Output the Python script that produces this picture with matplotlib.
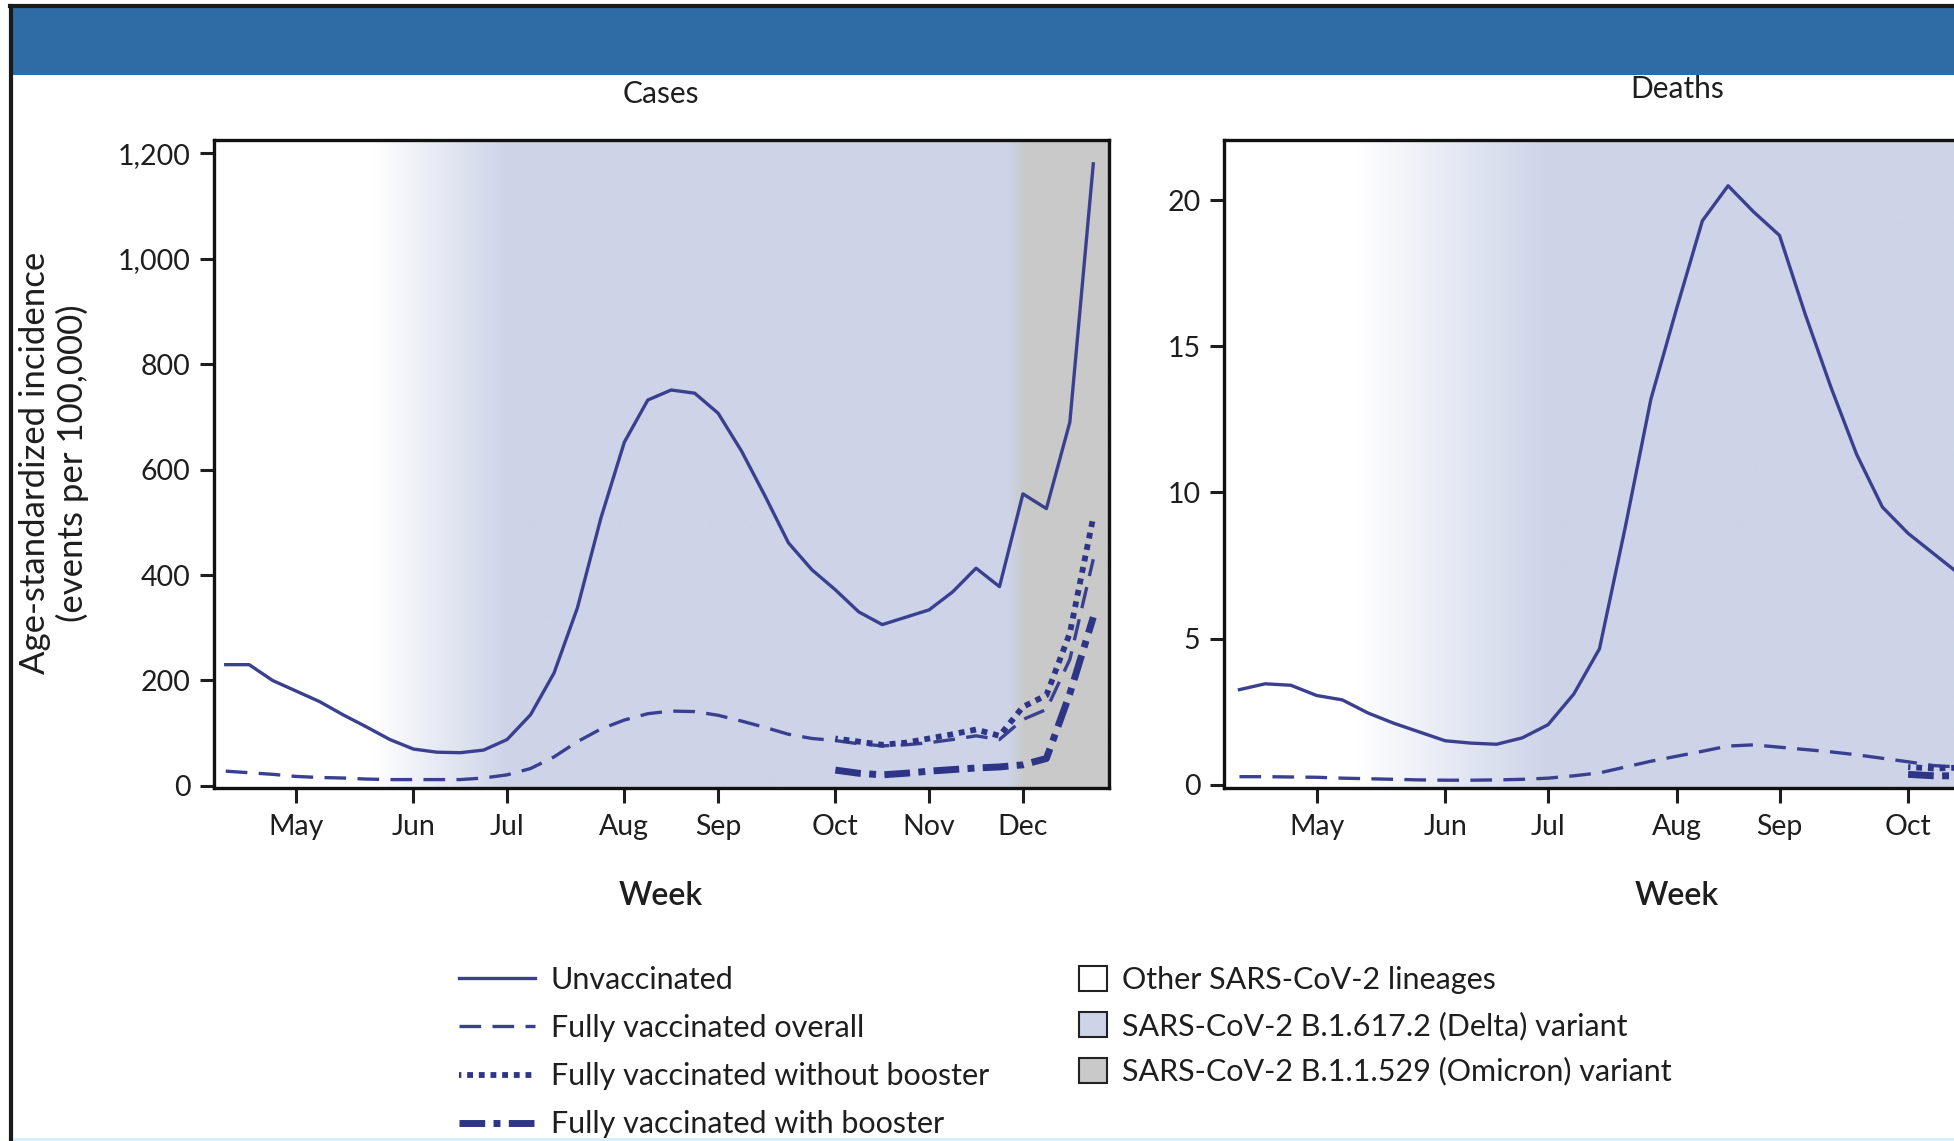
"""Weekly age-standardized COVID-19 cases and deaths by vaccination status,
with SARS-CoV-2 variant periods shaded in the background."""

import numpy as np
import matplotlib as mpl

mpl.use("Agg")
import matplotlib.pyplot as plt
from matplotlib import font_manager
from matplotlib.colors import to_rgb
from matplotlib.lines import Line2D
from matplotlib.patches import Patch, Rectangle
from matplotlib.ticker import FuncFormatter

_available = {f.name for f in font_manager.fontManager.ttflist}
FONT = next((f for f in ["Lato", "Open Sans", "DejaVu Sans"] if f in _available), "DejaVu Sans")
plt.rcParams["font.family"] = [FONT, "DejaVu Sans"]

W, H = 1954, 1141

# ── data (x = weeks relative to first week of May) ─────────────────────────
month_labels = ["May", "Jun", "Jul", "Aug", "Sep", "Oct", "Nov", "Dec"]
month_weeks = [0, 5, 9, 14, 18, 23, 27, 31]

case_weeks = list(range(-3, 35))
case_unvax = [230, 230, 200, 180, 160, 135, 112, 88, 70, 64, 63, 68, 88, 135, 214, 338,
              508, 652, 732, 751, 745, 707, 635, 550, 461, 410, 372, 330, 306, 320,
              334, 368, 413, 378, 554, 526, 690, 1180]
case_vax = [28, 25, 22, 18, 16, 15, 13, 12, 12, 12, 12, 15, 21, 33, 55, 84,
            108, 125, 137, 142, 141, 134, 123, 111, 98, 90, 86, 80, 76, 78,
            82, 88, 95, 88, 126, 145, 240, 430]

booster_weeks = list(range(23, 35))
case_no_booster = [90, 84, 78, 82, 90, 98, 107, 95, 150, 172, 290, 510]
case_booster = [30, 24, 21, 24, 28, 31, 34, 36, 40, 52, 175, 320]

death_weeks = list(range(-3, 26))
death_unvax = [3.25, 3.45, 3.40, 3.05, 2.90, 2.45, 2.10, 1.80, 1.50, 1.42, 1.38, 1.60,
               2.05, 3.10, 4.65, 8.8, 13.2, 16.3, 19.3, 20.5, 19.6, 18.8, 16.1, 13.6,
               11.3, 9.5, 8.6, 7.9, 7.2]
death_vax = [0.27, 0.27, 0.26, 0.25, 0.22, 0.20, 0.18, 0.16, 0.15, 0.15, 0.16, 0.18,
             0.22, 0.30, 0.40, 0.60, 0.80, 0.97, 1.14, 1.32, 1.36, 1.28, 1.20, 1.12,
             1.02, 0.90, 0.78, 0.65, 0.60]
death_booster_weeks = [23, 24, 25]
death_no_booster = [0.60, 0.55, 0.58]
death_booster = [0.35, 0.30, 0.30]
death_month_count = 6   # May..Oct fall inside the visible (cropped) panel

# variant shading: (week, colour) stops
WHITE = "#FFFFFF"
DELTA = "#CDD4E8"
OMICRON = "#C9C9C9"
case_variant_stops = [(-3.5, WHITE), (3.3, WHITE), (9.0, DELTA), (30.4, DELTA), (31.1, OMICRON), (34.7, OMICRON)]
death_variant_stops = [(-3.6, WHITE), (1.5, WHITE), (9.0, DELTA), (31.2, DELTA)]

LINE = "#3A408F"
DARK = "#2E3586"
BAR = "#2F6CA5"
TXT = "#1E1E1E"

solid = dict(color=LINE, lw=2.4, ls="-")
dashed = dict(color=LINE, lw=2.4, ls=(0, (6.5, 3.4)))
dotted = dict(color=DARK, lw=4.2, ls=(0.6, (1.0, 1.0)))
dashdot = dict(color=DARK, lw=5.0, ls=(0, (3.7, 1.2, 1.0, 1.2)))


def shade(ax, stops, ylim):
    xs = np.linspace(stops[0][0], stops[-1][0], 1200)
    pos = [s[0] for s in stops]
    cols = np.array([to_rgb(s[1]) for s in stops])
    rgb = np.stack([np.interp(xs, pos, cols[:, i]) for i in range(3)], axis=-1)
    ax.imshow(rgb[None, :, :], aspect="auto", extent=[xs[0], xs[-1], ylim[0], ylim[1]],
              zorder=0, interpolation="bilinear")


def style_axes(ax, xlim, ylim, yticks, fmt, n_months):
    ax.set_xlim(*xlim)
    ax.set_ylim(*ylim)
    ax.set_xticks(month_weeks[:n_months])
    ax.set_xticklabels(month_labels[:n_months])
    ax.set_yticks(yticks)
    ax.yaxis.set_major_formatter(FuncFormatter(fmt))
    for sp in ax.spines.values():
        sp.set_linewidth(2.4)
        sp.set_color("#111111")
    ax.tick_params(axis="x", direction="out", length=11, width=2.2, pad=8,
                   labelsize=20.5, colors=TXT)
    ax.tick_params(axis="y", direction="out", length=10, width=2.2, pad=7,
                   labelsize=20.5, colors=TXT)


fig = plt.figure(figsize=(W / 100, H / 100), dpi=100)
fig.patch.set_facecolor("white")

# header bar and frame
fig.add_artist(Rectangle((10 / W, 1 - 75 / H), 1, 67 / H, transform=fig.transFigure,
                         facecolor=BAR, edgecolor="none", zorder=1))
fig.add_artist(Line2D([10 / W, 1], [1 - 6 / H] * 2, transform=fig.transFigure,
                      color="#1A1A1A", lw=3, zorder=2))
fig.add_artist(Line2D([11 / W] * 2, [0, 1 - 6 / H], transform=fig.transFigure,
                      color="#1A1A1A", lw=3, zorder=2))
fig.add_artist(Rectangle((12 / W, 0), 1, 3 / H, transform=fig.transFigure,
                         facecolor="#D6F0F7", edgecolor="none", zorder=1))

ax_bot, ax_h, ax_w = 1 - 787.5 / H, 647.9 / H, 895 / W

# ── cases ──────────────────────────────────────────────────────────────────
ax1 = fig.add_axes([214 / W, ax_bot, ax_w, ax_h])
c_ylim = (-3, 1226)
shade(ax1, case_variant_stops, c_ylim)
ax1.plot(case_weeks, case_unvax, zorder=3, **solid)
ax1.plot(case_weeks, case_vax, zorder=3, **dashed)
ax1.plot(booster_weeks, case_no_booster, zorder=4, **dotted)
ax1.plot(booster_weeks, case_booster, zorder=4, **dashdot)
style_axes(ax1, (-3.5, 34.67), c_ylim, range(0, 1201, 200), lambda v, p: f"{v:,.0f}",
           len(month_weeks))

# ── deaths ─────────────────────────────────────────────────────────────────
ax2 = fig.add_axes([1224 / W, ax_bot, ax_w, ax_h])
d_ylim = (-0.1, 22.08)
shade(ax2, death_variant_stops, d_ylim)
ax2.plot(death_weeks, death_unvax, zorder=3, **solid)
ax2.plot(death_weeks, death_vax, zorder=3, **dashed)
ax2.plot(death_booster_weeks, death_no_booster, zorder=4, **dotted)
ax2.plot(death_booster_weeks, death_booster, zorder=4, **dashdot)
style_axes(ax2, (-3.6, 31.2), d_ylim, range(0, 21, 5), lambda v, p: f"{v:.0f}",
           death_month_count)

# titles and axis labels
fig.text(661 / W, 1 - 94 / H, "Cases", ha="center", va="center", fontsize=21.5, color=TXT)
fig.text(1677 / W, 1 - 89 / H, "Deaths", ha="center", va="center", fontsize=21.5, color=TXT)
for xc in (661, 1677):
    fig.text(xc / W, 1 - 896 / H, "Week", ha="center", va="center", fontsize=23,
             fontweight="semibold", color=TXT)
fig.text(54 / W, 1 - 463 / H, "Age-standardized incidence\n(events per 100,000)",
         rotation=90, ha="center", va="center", multialignment="center",
         fontsize=25, linespacing=1.2, color=TXT)

# legends
line_handles = [Line2D([], [], **solid), Line2D([], [], **dashed),
                Line2D([], [], **dotted), Line2D([], [], **dashdot)]
line_labels = ["Unvaccinated", "Fully vaccinated overall",
               "Fully vaccinated without booster", "Fully vaccinated with booster"]
fig.legend(line_handles, line_labels, loc="upper left", bbox_to_anchor=(459 / W, 1 - 966 / H),
           frameon=False, fontsize=22, handlelength=2.5, handletextpad=0.5,
           labelspacing=0.66, borderpad=0, borderaxespad=0, labelcolor=TXT)

variant_handles = [Patch(facecolor=c, edgecolor="#222222", lw=1.5) for c in (WHITE, DELTA, OMICRON)]
variant_labels = ["Other SARS-CoV-2 lineages", "SARS-CoV-2 B.1.617.2 (Delta) variant",
                  "SARS-CoV-2 B.1.1.529 (Omicron) variant"]
fig.legend(variant_handles, variant_labels, loc="upper left", bbox_to_anchor=(1079 / W, 1 - 966 / H),
           frameon=False, fontsize=22, handlelength=0.9, handleheight=0.9, handletextpad=0.5,
           labelspacing=0.56, borderpad=0, borderaxespad=0, labelcolor=TXT)

fig.savefig("out.png", dpi=100)
plt.close(fig)
